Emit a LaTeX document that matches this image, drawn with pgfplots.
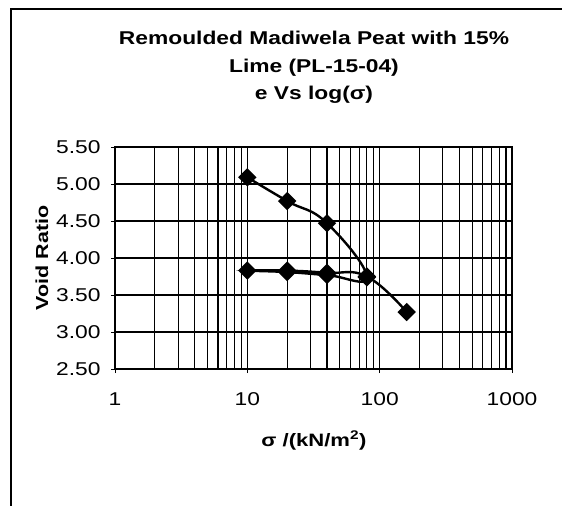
\documentclass[border=0pt]{standalone}
\usepackage{fontspec}
\setmainfont[FakeStretch=1.23]{Liberation Sans}
\usepackage{pgfplots}
\pgfplotsset{compat=1.18}
\begin{document}
\begin{tikzpicture}[x=1bp,y=1bp]
  \useasboundingbox (0,0) rectangle (562,-506);
  % outer chart frame (cropped at right and bottom)
  \draw[line width=1.2bp] (11,-506) -- (11,-9) -- (562,-9);

  \node[anchor=base, font=\bfseries\fontsize{18.6}{20}\selectfont] at (314,-45) {Remoulded Madiwela Peat with 15\%};
  \node[anchor=base, font=\bfseries\fontsize{18.6}{20}\selectfont] at (314,-72.5) {Lime (PL-15-04)};
  \node[anchor=base, font=\bfseries\fontsize{18.6}{20}\selectfont] at (314,-99.5) {e Vs log(σ)};
  \node[anchor=base, rotate=90, font=\bfseries\fontsize{17.5}{20}\selectfont] at (48,-258) {Void Ratio};
  \node[anchor=base, font=\bfseries\fontsize{18}{20}\selectfont] at (314,-446) {σ /(kN/m\textsuperscript{2})};

  \begin{axis}[
    at={(115bp,-369bp)}, anchor=south west,
    scale only axis,
    width=397bp, height=222bp,
    xmode=log,
    xmin=1, xmax=1000,
    ymin=2.5, ymax=5.5,
    ytick={2.5,3,...,5.5},
    log ticks with fixed point,
    /pgf/number format/assume math mode=true,
    /pgf/number format/1000 sep={},
    ticklabel style={font=\fontsize{18.6}{20}\selectfont},
    yticklabel style={/pgf/number format/fixed, /pgf/number format/fixed zerofill,
      /pgf/number format/precision=2, xshift=-7bp},
    xticklabel style={yshift=-16bp},
    tick align=outside,
    major tick length=4bp,
    minor tick length=0pt,
    tick style={black, line width=0.8bp},
    xtick pos=bottom, ytick pos=left,
    grid=both,
    major grid style={black, line width=1.2bp},
    minor grid style={black, line width=1.2bp},
    axis line style={line width=1.8bp},
  ]
  % loading 10-80, unloading 80-10, reloading 10-160 (one smoothed series)
  \addplot[black, line width=2.4bp, smooth, tension=0.75, mark=square*, mark size=5.3bp, mark options={rotate=45, solid}]
    coordinates {(10,5.09) (20,4.77) (40,4.47) (80,3.74)
                 (40,3.77) (20,3.81) (10,3.83)
                 (20,3.83) (40,3.80) (80,3.75) (160,3.27)};
  \end{axis}
\end{tikzpicture}
\end{document}
